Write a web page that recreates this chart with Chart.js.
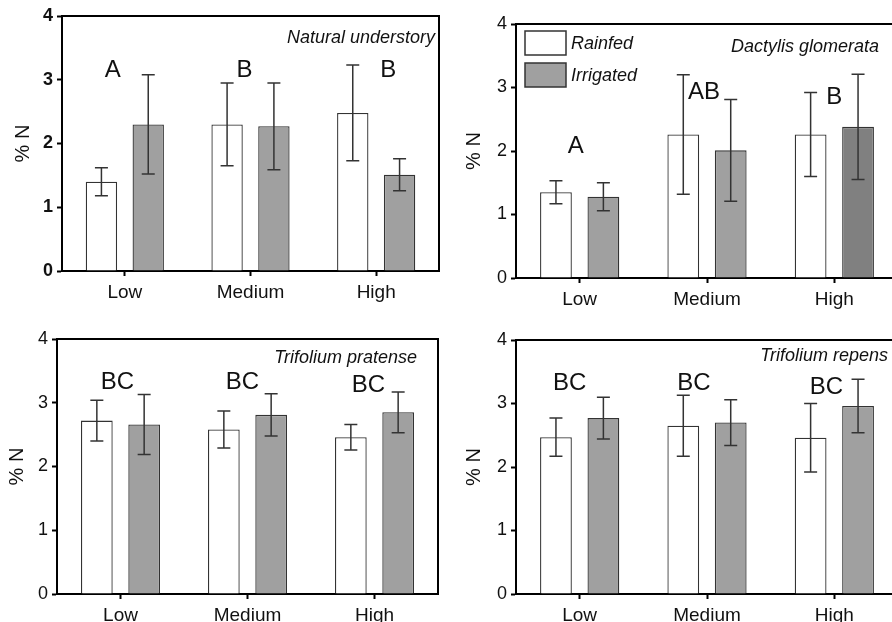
<!DOCTYPE html>
<html>
<head>
<meta charset="utf-8">
<script src="https://cdn.jsdelivr.net/npm/chart.js@4.4.1/dist/chart.umd.min.js"></script>
<style>
html, body { margin: 0; padding: 0; background: #fff; overflow: hidden; width: 892px; height: 622px; }
.panel { position: absolute; }
</style>
</head>
<body>
<div class="panel" style="left:0;top:0"><canvas id="p1" width="446" height="311"></canvas></div>
<div class="panel" style="left:446px;top:0"><canvas id="p2" width="466" height="311"></canvas></div>
<div class="panel" style="left:0;top:311px"><canvas id="p3" width="446" height="311"></canvas></div>
<div class="panel" style="left:446px;top:311px"><canvas id="p4" width="466" height="311"></canvas></div>
<script>
// data
const categories = ['Low', 'Medium', 'High']
const seriesNames = ['Rainfed', 'Irrigated']
const yTicks = [0, 1, 2, 3, 4]

const natRainfed = [1.40, 2.30, 2.48]
const natRainfedErr = [0.22, 0.65, 0.75]
const natIrrigated = [2.30, 2.27, 1.51]
const natIrrigatedErr = [0.78, 0.68, 0.25]
const natLetters = ['A', 'B', 'B']
const natLetterY = [3.15, 3.15, 3.15]

const dacRainfed = [1.35, 2.26, 2.26]
const dacRainfedErr = [0.18, 0.94, 0.66]
const dacIrrigated = [1.28, 2.01, 2.38]
const dacIrrigatedErr = [0.22, 0.80, 0.83]
const dacLetters = ['A', 'AB', 'B']
const dacLetterY = [2.08, 2.92, 2.84]

const praRainfed = [2.72, 2.58, 2.46]
const praRainfedErr = [0.32, 0.29, 0.20]
const praIrrigated = [2.66, 2.81, 2.85]
const praIrrigatedErr = [0.47, 0.33, 0.32]
const praLetters = ['BC', 'BC', 'BC']
const praLetterY = [3.32, 3.32, 3.27]

const repRainfed = [2.47, 2.65, 2.46]
const repRainfedErr = [0.30, 0.48, 0.54]
const repIrrigated = [2.77, 2.70, 2.96]
const repIrrigatedErr = [0.33, 0.36, 0.42]
const repLetters = ['BC', 'BC', 'BC']
const repLetterY = [3.32, 3.32, 3.25]

const FONT = 'Arial, "Liberation Sans", Helvetica, sans-serif'
const white = '#ffffff'
const gray = '#a0a0a0'
const darkGray = '#808080'

// draws error bars, letters, frame, species name and legend
const decor = {
    id: 'decor',
    afterDatasetsDraw(chart, args, opts) {
        const ctx = chart.ctx
        const area = chart.chartArea
        const y = chart.scales.y
        ctx.save()
        // frame (top + right)
        ctx.strokeStyle = '#000'
        ctx.lineWidth = 2
        ctx.beginPath()
        ctx.moveTo(area.left, area.top)
        ctx.lineTo(area.right, area.top)
        ctx.lineTo(area.right, area.bottom)
        ctx.stroke()

        // error bars
        ctx.strokeStyle = '#333'
        ctx.lineWidth = 1.5
        chart.data.datasets.forEach((ds, i) => {
            const meta = chart.getDatasetMeta(i)
            meta.data.forEach((bar, j) => {
                const v = ds.data[j]
                const e = opts.errors[i][j]
                const hi = y.getPixelForValue(v + e)
                const lo = y.getPixelForValue(v - e)
                ctx.beginPath()
                ctx.moveTo(bar.x, hi)
                ctx.lineTo(bar.x, lo)
                ctx.moveTo(bar.x - 6.5, hi)
                ctx.lineTo(bar.x + 6.5, hi)
                ctx.moveTo(bar.x - 6.5, lo)
                ctx.lineTo(bar.x + 6.5, lo)
                ctx.stroke()
            })
        })

        // letters
        const x = chart.scales.x
        ctx.fillStyle = '#111'
        ctx.font = '24px ' + FONT
        ctx.textAlign = 'center'
        ctx.textBaseline = 'middle'
        opts.letters.forEach((t, j) => {
            ctx.fillText(t, x.getPixelForValue(j) + opts.letterDx[j], y.getPixelForValue(opts.letterY[j]))
        })

        // species name
        ctx.font = 'italic 18px ' + FONT
        ctx.textAlign = 'right'
        ctx.fillText(opts.name, area.left + opts.nameX, area.top + opts.nameY)

        // legend
        if (opts.legend) {
            ctx.font = 'italic 18px ' + FONT
            ctx.textAlign = 'left'
            chart.data.datasets.forEach((ds, i) => {
                const bx = area.left + 9
                const by = area.top + 7 + i * 32
                ctx.fillStyle = i === 0 ? white : gray
                ctx.fillRect(bx, by, 41, 24)
                ctx.strokeStyle = '#333'
                ctx.lineWidth = 1.5
                ctx.strokeRect(bx, by, 41, 24)
                ctx.fillStyle = '#111'
                ctx.fillText(ds.label, bx + 46, by + 13)
            })
        }
        ctx.restore()
    }
}

const makePanel = (id, p) => {
    const context = document.querySelector(id).getContext('2d')
    return new Chart(context, {
        type: 'bar',
        data: {
            labels: categories,
            datasets: [{
                label: seriesNames[0],
                data: p.rainfed,
                backgroundColor: white,
                borderColor: '#333',
                borderWidth: 1.3
            }, {
                label: seriesNames[1],
                data: p.irrigated,
                backgroundColor: p.irrigatedColors,
                borderColor: '#333',
                borderWidth: 1.3
            }]
        },
        options: {
            responsive: false,
            animation: false,
            devicePixelRatio: 1,
            categoryPercentage: 0.745,
            barPercentage: 0.67,
            layout: { padding: { top: p.top, right: p.right, left: 0, bottom: 0 } },
            plugins: {
                legend: { display: false },
                tooltip: { enabled: false },
                decor: {
                    errors: p.errors,
                    letters: p.letters,
                    letterY: p.letterY,
                    letterDx: p.letterDx,
                    name: p.name,
                    nameX: p.nameX,
                    nameY: p.nameY,
                    legend: p.legend
                }
            },
            scales: {
                x: {
                    afterFit: (s) => { s.height = p.xh },
                    grid: { drawOnChartArea: false, offset: false, tickLength: 5, tickWidth: 2, tickColor: '#000' },
                    border: { color: '#000', width: 2 },
                    ticks: { color: '#111', padding: 5, font: { family: FONT, size: 19 } }
                },
                y: {
                    min: yTicks[0],
                    max: yTicks[yTicks.length - 1],
                    afterFit: (s) => { s.width = p.yw },
                    afterBuildTicks: (s) => { s.ticks = yTicks.map(v => ({ value: v })) },
                    grid: { drawOnChartArea: false, tickLength: 5, tickWidth: 2, tickColor: '#000' },
                    border: { color: '#000', width: 2 },
                    ticks: { color: '#111', padding: 4, font: { family: FONT, size: 18, weight: p.bold ? 'bold' : 'normal' } },
                    title: { display: true, text: '% N', color: '#111', padding: { top: p.titlePad, bottom: 0 }, font: { family: FONT, size: 20 } }
                }
            }
        },
        plugins: [decor]
    })
}

makePanel('#p1', {
    rainfed: natRainfed, irrigated: natIrrigated, irrigatedColors: [gray, gray, gray],
    errors: [natRainfedErr, natIrrigatedErr], letters: natLetters, letterY: natLetterY, letterDx: [-12, -6, 12],
    name: 'Natural understory', nameX: 373, nameY: 22,
    top: 16, right: 7, yw: 62, xh: 40, titlePad: 11, bold: true
})
makePanel('#p2', {
    rainfed: dacRainfed, irrigated: dacIrrigated, irrigatedColors: [gray, gray, darkGray],
    errors: [dacRainfedErr, dacIrrigatedErr], letters: dacLetters, letterY: dacLetterY, letterDx: [-4, -3, 0],
    name: 'Dactylis glomerata', nameX: 363, nameY: 23, legend: true,
    top: 24, right: 14, yw: 70, xh: 33, titlePad: 16
})
makePanel('#p3', {
    rainfed: praRainfed, irrigated: praIrrigated, irrigatedColors: [gray, gray, gray],
    errors: [praRainfedErr, praIrrigatedErr], letters: praLetters, letterY: praLetterY, letterDx: [-3, -5, -6],
    name: 'Trifolium pratense', nameX: 360, nameY: 19,
    top: 28, right: 8, yw: 57, xh: 28, titlePad: 5
})
makePanel('#p4', {
    rainfed: repRainfed, irrigated: repIrrigated, irrigatedColors: [gray, gray, gray],
    errors: [repRainfedErr, repIrrigatedErr], letters: repLetters, letterY: repLetterY, letterDx: [-10, -13, -8],
    name: 'Trifolium repens', nameX: 372, nameY: 16,
    top: 29, right: 14, yw: 70, xh: 28, titlePad: 16
})
</script>
</body>
</html>
